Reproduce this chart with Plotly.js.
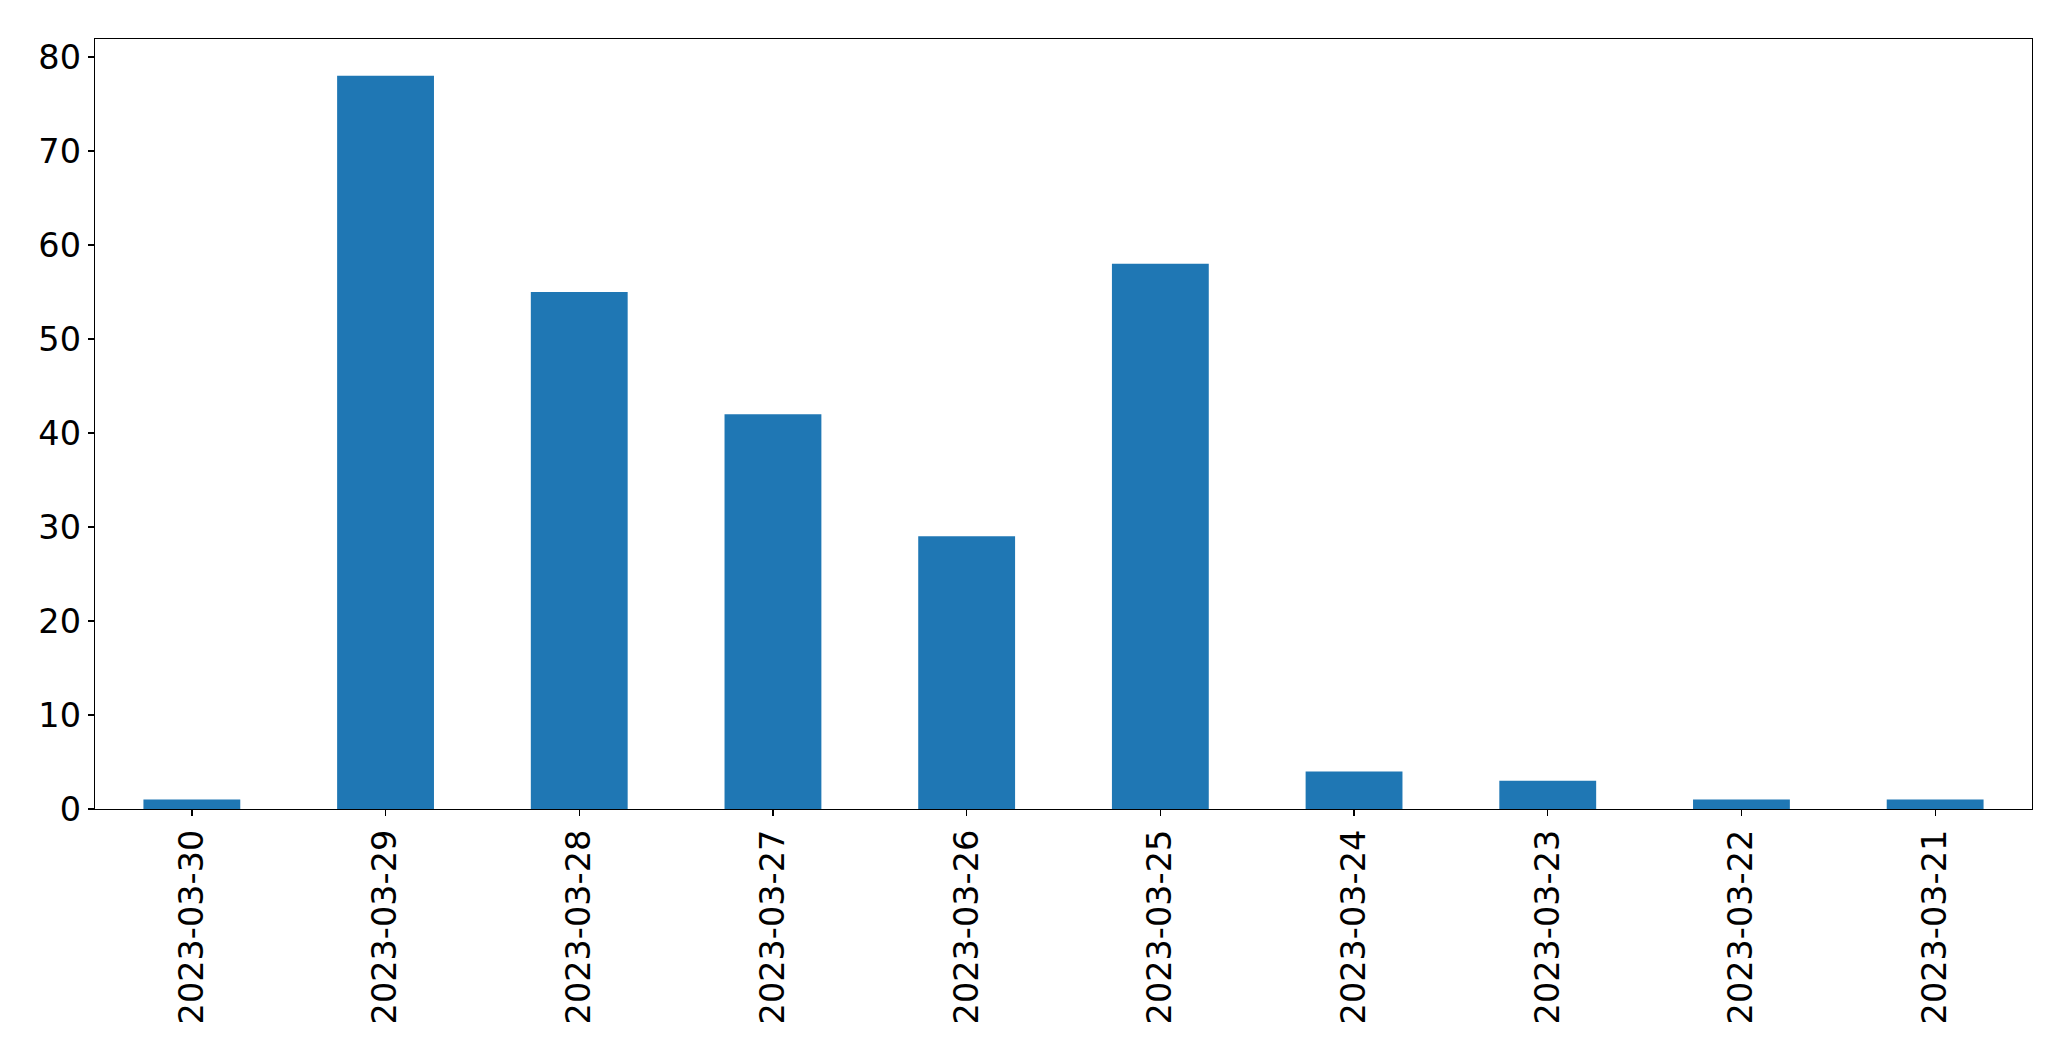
<!DOCTYPE html>
<html>
<head>
<meta charset="utf-8">
<script src="https://cdn.plot.ly/plotly-3.0.1.min.js"></script>
<style>html,body{margin:0;padding:0;background:#fff;}#chart{width:2071px;height:1061px;}</style>
</head>
<body>
<div id="chart"></div>
<script>
const dates = ["2023-03-30","2023-03-29","2023-03-28","2023-03-27","2023-03-26","2023-03-25","2023-03-24","2023-03-23","2023-03-22","2023-03-21"];
const counts = [1, 78, 55, 42, 29, 58, 4, 3, 1, 1];
const yTicks = [0, 10, 20, 30, 40, 50, 60, 70, 80];

const font = {family: "DejaVu Sans", size: 33.5, color: "#000"};
Plotly.newPlot("chart", [{
  type: "bar",
  x: dates,
  y: counts,
  width: 0.5,
  marker: {color: "#1f77b4", line: {width: 0}},
  hoverinfo: "x+y"
}], {
  width: 2071, height: 1061,
  margin: {l: 95, r: 39, t: 39, b: 252, pad: 0},
  paper_bgcolor: "#fff", plot_bgcolor: "#fff",
  showlegend: false,
  font: font,
  xaxis: {
    type: "category", range: [-0.5, 9.5],
    tickangle: -90, ticks: "outside", ticklen: 6, tickwidth: 1.3, tickcolor: "#000",
    showline: true, mirror: true, linecolor: "#000", linewidth: 1.3,
    showgrid: false, zeroline: false, tickfont: font, ticklabelstandoff: 0
  },
  yaxis: {
    range: [0, 81.9], tickvals: yTicks, ticktext: yTicks.map(String),
    ticks: "outside", ticklen: 6, tickwidth: 1.3, tickcolor: "#000",
    showline: true, mirror: true, linecolor: "#000", linewidth: 1.3,
    showgrid: false, zeroline: false, tickfont: font, ticklabelstandoff: 0
  }
}, {displayModeBar: false, staticPlot: true});
</script>
</body>
</html>
